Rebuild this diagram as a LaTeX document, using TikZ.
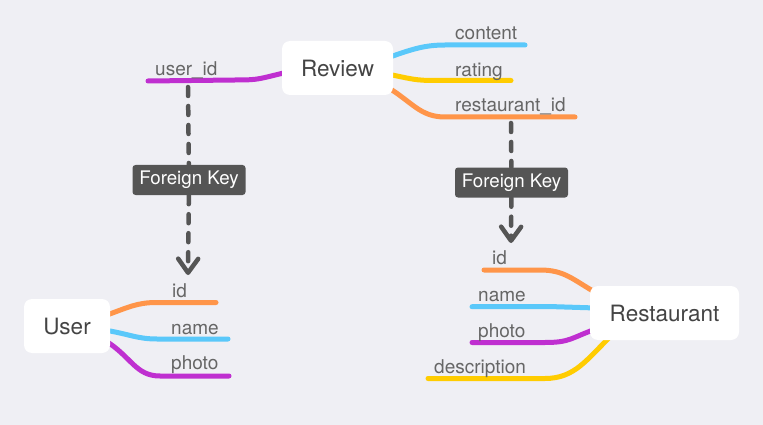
\documentclass[tikz,border=0pt]{standalone}
\usepackage{fontspec}
\setmainfont{TeX Gyre Heros}
\usetikzlibrary{arrows.meta}
\definecolor{bgcol}{HTML}{EFEFF4}
\definecolor{titlecol}{HTML}{444444}
\definecolor{labelcol}{HTML}{666666}
\definecolor{fkcol}{HTML}{555555}
\definecolor{orangecol}{HTML}{FF9549}
\definecolor{bluecol}{HTML}{5AC8FA}
\definecolor{yellowcol}{HTML}{FFCC00}
\definecolor{purplecol}{HTML}{BF2FD0}
\pgfdeclarelayer{bg}
\pgfdeclarelayer{lines}
\pgfsetlayers{bg,lines,main}
\begin{document}
\begin{tikzpicture}[x=1pt,y=-1pt,
		entity/.style={fill=white, rounded corners=8pt, minimum height=54pt, inner sep=0pt, text=titlecol, font=\fontsize{22.5}{27}\selectfont},
		attr/.style={anchor=base west, inner sep=0pt, text=labelcol, font=\fontsize{19}{22}\selectfont},
		branch/.style={line width=5pt, line cap=round},
		fkbox/.style={fill=fkcol, rounded corners=3pt, minimum width=113pt, minimum height=30pt, inner sep=0pt, text=white, font=\fontsize{18.7}{21}\selectfont},
		fkline/.style={draw=fkcol, line width=4.5pt, line cap=round, dash pattern=on 9pt off 10pt}]
	\begin{pgfonlayer}{bg}
		\fill [bgcol] (0,0) rectangle (763,425);
	\end{pgfonlayer}
	\useasboundingbox (0,0) rectangle (763,425);

	\node (rev) [entity, minimum width=111pt] at (337.5,68) {Review};
	\node (usr) [entity, minimum width=86pt] at (67,326) {User};
	\node (rst) [entity, minimum width=149pt] at (664.5,313) {Restaurant};

	\begin{pgfonlayer}{lines}
		% Review
		\coordinate (revuid) at (148,81);
		\coordinate (revcontent) at (525,45);
		\coordinate (revrating) at (511,80.5);
		\coordinate (revrid) at (575,117);
		\draw [branch, purplecol] ([xshift=6pt,yshift=-4pt]rev.west) .. controls +(-30,7) and +(25,0) .. (235,80) -- (revuid);
		\draw [branch, bluecol] ([xshift=-6pt,yshift=10pt]rev.east) .. controls +(25,-9) and +(-20,0) .. (445,45) -- (revcontent);
		\draw [branch, yellowcol] ([xshift=-6pt,yshift=-6pt]rev.east) .. controls +(25,5) and +(-20,0) .. (435,80.5) -- (revrating);
		\draw [branch, orangecol] ([xshift=-6pt,yshift=-19pt]rev.east) .. controls +(25,15) and +(-25,0) .. (445,117) -- (revrid);

		% User
		\coordinate (usrid) at (216,302.5);
		\coordinate (usrname) at (228,339);
		\coordinate (usrphoto) at (229,376);
		\draw [branch, orangecol] ([xshift=-6pt,yshift=10pt]usr.east) .. controls +(25,-9) and +(-20,0) .. (157,302.5) -- (usrid);
		\draw [branch, bluecol] ([xshift=-6pt,yshift=-4pt]usr.east) .. controls +(25,4) and +(-20,0) .. (157,339) -- (usrname);
		\draw [branch, purplecol] ([xshift=-6pt,yshift=-14pt]usr.east) .. controls +(27,16) and +(-25,0) .. (160,376) -- (usrphoto);

		% Restaurant
		\coordinate (rstid) at (484,270);
		\coordinate (rstname) at (472,306.7);
		\coordinate (rstphoto) at (472,342.5);
		\coordinate (rstdesc) at (428,378.5);
		\draw [branch, orangecol] ([xshift=8pt,yshift=-8pt]rst.north west) .. controls +(-25,-14) and +(25,0) .. (540,270) -- (rstid);
		\draw [branch, bluecol] ([xshift=6pt,yshift=5pt]rst.west) .. controls +(-20,-1) and +(20,0) .. (555,306.7) -- (rstname);
		\draw [branch, purplecol] ([xshift=6pt,yshift=-16pt]rst.west) .. controls +(-25,9) and +(25,0) .. (545,342.5) -- (rstphoto);
		\draw [branch, yellowcol] ([xshift=22pt,yshift=5pt]rst.south west) .. controls +(-25,24) and +(30,0) .. (545,378.5) -- (rstdesc);
	\end{pgfonlayer}

	\node (luid) [attr] at (155,76) {user\_id};
	\node (lcontent) [attr] at (455,40) {content};
	\node (lrating) [attr] at (455,76.5) {rating};
	\node (lrid) [attr] at (455,111.5) {restaurant\_id};
	\node (luid2) [attr] at (172,297) {id};
	\node (luname) [attr] at (171,334) {name};
	\node (luphoto) [attr] at (171,369) {photo};
	\node (lrid2) [attr] at (492,264) {id};
	\node (lrname) [attr] at (478,301.5) {name};
	\node (lrphoto) [attr] at (478,337) {photo};
	\node (lrdesc) [attr] at (434,373) {description};

	% foreign keys
	\coordinate (fkusrtop) at (188,87);
	\coordinate (fkusrtip) at (188,275);
	\coordinate (fkrsttop) at (511,123);
	\coordinate (fkrsttip) at (511,243);
	\node (fkusr) [fkbox] at (189,180) {Foreign Key};
	\node (fkrst) [fkbox] at (511.5,182.5) {Foreign Key};
	\draw [fkline] (fkusrtop) -- (fkusr);
	\draw [fkline, -{Straight Barb[length=14pt,width=20pt,round]}] (fkusr) -- (fkusrtip);
	\draw [fkline] (fkrsttop) -- (fkrst);
	\draw [fkline, -{Straight Barb[length=14pt,width=20pt,round]}] (fkrst) -- (fkrsttip);
\end{tikzpicture}
\end{document}
